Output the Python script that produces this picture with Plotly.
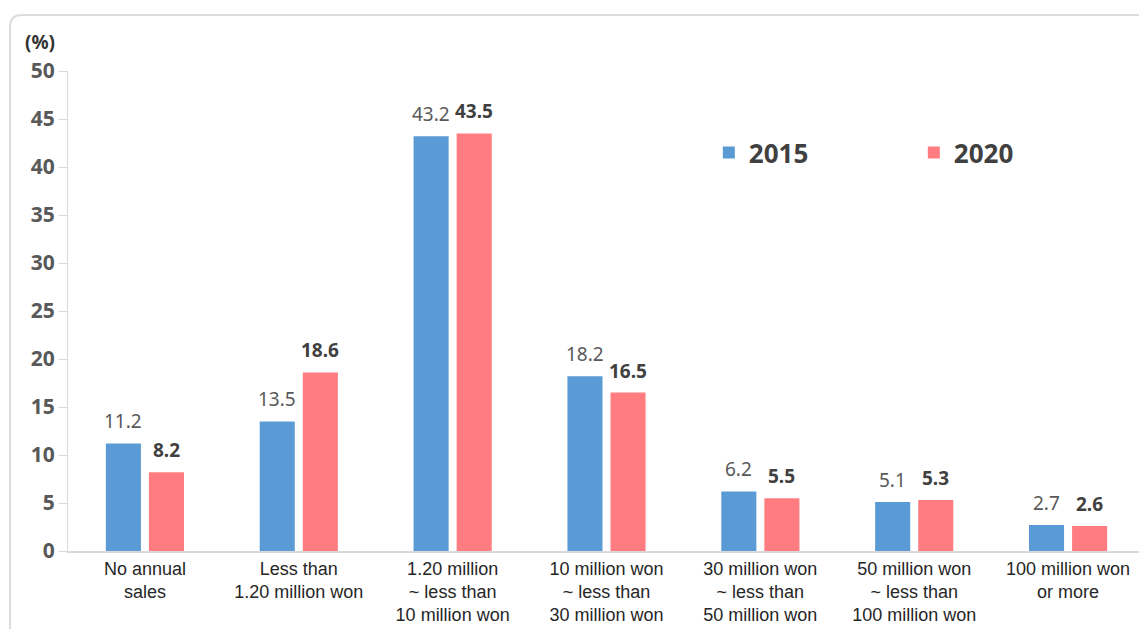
import plotly.graph_objects as go

categories = ["No annual<br>sales", "Less than<br>1.20 million won", "1.20 million<br>~ less than<br>10 million won",
              "10 million won<br>~ less than<br>30 million won", "30 million won<br>~ less than<br>50 million won",
              "50 million won<br>~ less than<br>100 million won", "100 million won<br>or more"]
values_2015 = [11.2, 13.5, 43.2, 18.2, 6.2, 5.1, 2.7]
values_2020 = [8.2, 18.6, 43.5, 16.5, 5.5, 5.3, 2.6]
y_ticks = [0, 5, 10, 15, 20, 25, 30, 35, 40, 45, 50]

BLUE = "#5B9BD5"
RED = "#FF7C80"

fig = go.Figure()
fig.add_trace(go.Bar(x=categories, y=values_2015, name="2015", marker=dict(color=BLUE, line=dict(width=0))))
fig.add_trace(go.Bar(x=categories, y=values_2020, name="2020", marker=dict(color=RED, line=dict(width=0))))

annotations = []
for c, v in zip(categories, values_2015):
    annotations.append(dict(x=c, y=v, xref="x", yref="y", text=f"{v:.1f}", showarrow=False,
                            xshift=-21.5, yanchor="bottom", yshift=7,
                            font=dict(family="Noto Sans", size=19, color="#595959")))
for c, v in zip(categories, values_2020):
    annotations.append(dict(x=c, y=v, xref="x", yref="y", text=f"<b>{v:.1f}</b>", showarrow=False,
                            xshift=21.5, yanchor="bottom", yshift=7,
                            font=dict(family="Noto Sans", size=19, color="#404040")))
annotations.append(dict(x=0, y=1, xref="paper", yref="paper", xshift=-45, yshift=44, text="<b>(%)</b>",
                        showarrow=False, font=dict(family="Noto Sans", size=19, color="#333333")))

fig.update_layout(
    width=1139, height=621,
    margin=dict(l=60, r=2, t=63, b=78),
    paper_bgcolor="white", plot_bgcolor="white",
    barmode="group", bargap=0.44, bargroupgap=0.186,
    annotations=annotations,
    showlegend=True,
    legend=dict(orientation="h", x=0.595, y=0.83, xanchor="left", yanchor="middle",
                entrywidth=160, bgcolor="rgba(0,0,0,0)",
                font=dict(family="Noto Sans", size=26, color="#404040", weight="bold")),
    shapes=[dict(type="path", xref="paper", yref="paper", xsizemode="pixel", ysizemode="pixel",
                 xanchor=0, yanchor=0,
                 path="M -58,-100 L -58,524 Q -58,536 -46,536 L 1100,536",
                 line=dict(color="#dcdcdc", width=2), layer="below")],
)
fig.update_yaxes(range=[0, 50], tickvals=y_ticks, showgrid=False, zeroline=False,
                 showline=True, linecolor="#d9d9d9", linewidth=1,
                 ticks="outside", ticklen=8, tickcolor="#d9d9d9",
                 tickfont=dict(family="Noto Sans", size=21, color="#595959", weight="bold"))
fig.update_xaxes(showgrid=False, showline=True, linecolor="#d9d9d9", linewidth=2, ticks="",
                 tickfont=dict(family="Liberation Sans", size=18, color="#262626"))

fig.write_html("out.html")
